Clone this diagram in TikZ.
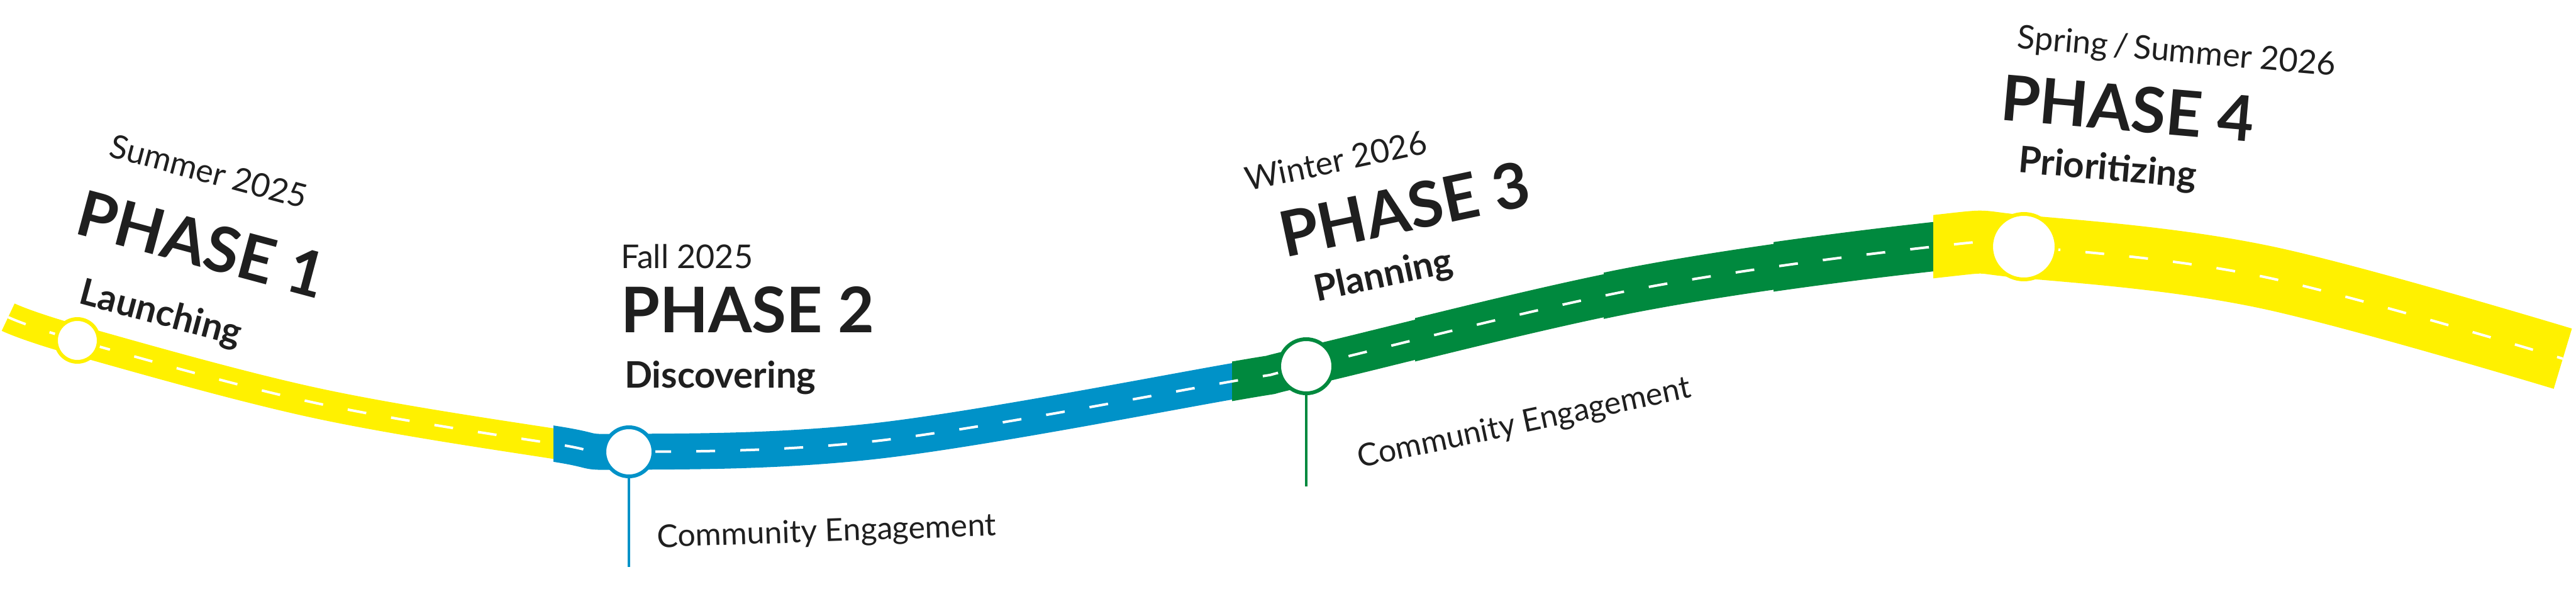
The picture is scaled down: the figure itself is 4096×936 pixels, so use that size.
\documentclass[tikz,border=0pt]{standalone}
\usepackage{fontspec}
\setmainfont{Lato}
\begin{document}
\begin{tikzpicture}[x=1pt,y=-1pt,
  date/.style={font=\fontsize{52}{56}\selectfont, text=black!88, inner sep=0},
  phase/.style={font=\fontsize{100}{104}\selectfont\bfseries, text=black!88, inner sep=0},
  sub/.style={font=\fontsize{58}{62}\selectfont\bfseries, text=black!88, inner sep=0},
  ce/.style={font=\fontsize{50}{54}\selectfont, text=black!88, inner sep=0},
  stop/.style={circle, fill=white, line width=6pt, inner sep=0}]
\definecolor{yel}{HTML}{FFF100}
\definecolor{blu}{HTML}{0092C8}
\definecolor{grn}{HTML}{00893E}
\useasboundingbox (0,0) rectangle (4096,936);
\def\road{plot[smooth,tension=0.6] coordinates {(13,504) (123,541) (500,640) (880,705) (1000,718) (1400,700) (1959,606) (2077,582) (2600,460) (3074,392) (3218,392) (3600,440) (4075,570)}}
\begin{scope}\clip (0,0) rectangle (880,936); \draw[yel,line width=48pt] \road; \end{scope}
\begin{scope}\clip (880,0) rectangle (1959,936); \draw[blu,line width=57pt] \road; \end{scope}
\begin{scope}\clip (1959,0) rectangle (2250,936); \draw[grn,line width=62pt] \road; \end{scope}
\begin{scope}\clip (2250,0) rectangle (2550,936); \draw[grn,line width=67pt] \road; \end{scope}
\begin{scope}\clip (2550,0) rectangle (2820,936); \draw[grn,line width=72pt] \road; \end{scope}
\begin{scope}\clip (2820,0) rectangle (3074,936); \draw[grn,line width=78pt] \road; \end{scope}
\begin{scope}\clip (3074,0) rectangle (4096,936); \draw[yel,line width=100pt] \road; \end{scope}
\draw[white,line width=4pt,dash pattern=on 30pt off 40pt] \road;
\coordinate (e2) at (1000,901);
\coordinate (e3) at (2077,773);
\node[stop,draw=yel,minimum size=68pt] (s1) at (123,541) {};
\node[stop,draw=blu,minimum size=78pt] (s2) at (1000,718) {};
\node[stop,draw=grn,minimum size=86pt] (s3) at (2077,582) {};
\node[stop,draw=yel,minimum size=104pt] (s4) at (3218,392) {};
\draw[blu,line width=4pt] (s2.south) -- (e2);
\draw[grn,line width=4pt] (s3.south) -- (e3);
\node[date,rotate=-15] (d1) at (332,272) {Summer 2025};
\node[phase,rotate=-15] (p1) at (321,388) {PHASE 1};
\node[sub,rotate=-15] (l1) at (255,500) {Launching};
\node[date,anchor=base west] (d2) at (987,426) {Fall 2025};
\node[phase,anchor=base west] (p2) at (987,528) {PHASE 2};
\node[sub,anchor=base west] (l2) at (993,616) {Discovering};
\node[date,rotate=12] (d3) at (2124,255) {Winter 2026};
\node[phase,rotate=12] (p3) at (2233,332) {PHASE 3};
\node[sub,rotate=12] (l3) at (2200,440) {Planning};
\node[date,rotate=-5] (d4) at (3461,84) {Spring\,/\,Summer 2026};
\node[phase,rotate=-5] (p4) at (3383,172) {PHASE 4};
\node[sub,rotate=-5] (l4) at (3351,270) {Prioritizing};
\node[ce,anchor=base west,rotate=2] (c2) at (1045,870) {Community Engagement};
\node[ce,rotate=12] (c3) at (2424,674) {Community Engagement};
\end{tikzpicture}
\end{document}
